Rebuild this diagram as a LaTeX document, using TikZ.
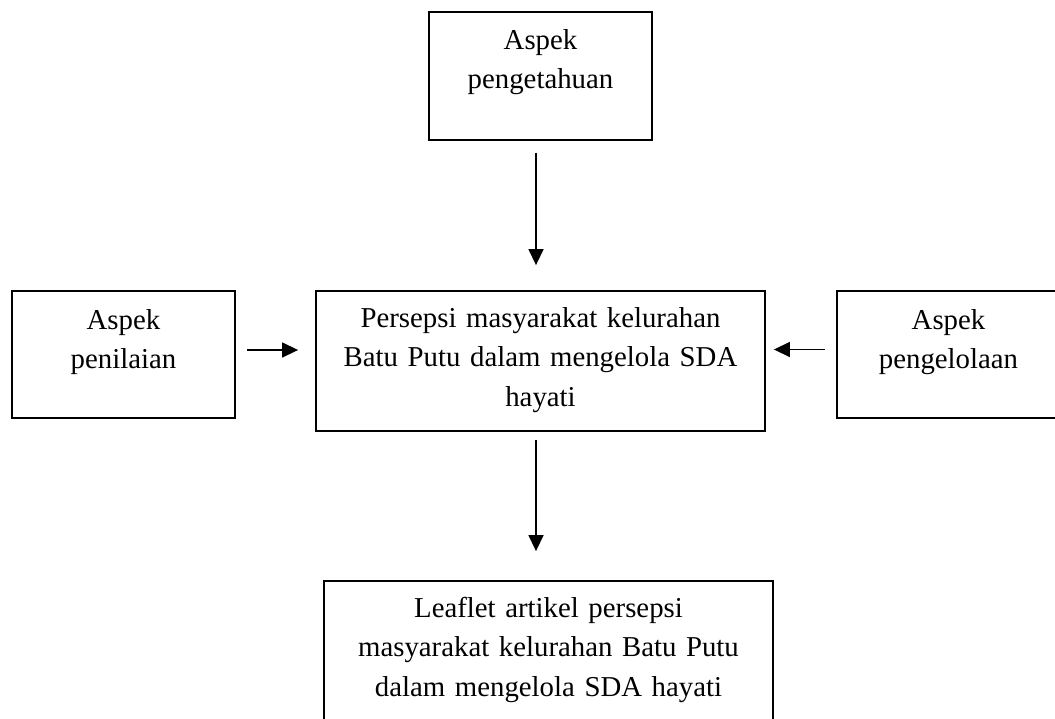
\documentclass[tikz,border=0pt]{standalone}
\usepackage{fontspec}
\setmainfont{Liberation Serif}
\usetikzlibrary{arrows.meta}
\tikzset{
  box/.style={draw, line width=0.9pt, inner sep=0pt, rectangle},
  txt/.style={inner sep=0pt, align=center, anchor=base,
    font=\fontsize{14.4pt}{19.75pt}\selectfont},
  arr/.style={line width=0.7pt, -{Triangle[length=8pt,width=7.5pt]}}
}
\begin{document}
\begin{tikzpicture}[x=0.5pt,y=-0.5pt]
\path[use as bounding box, clip] (0,0) rectangle (1055,718);
% boxes
\node[box, minimum width=111.5pt, minimum height=64pt] (top) at (540.5,76) {};
\node[box, minimum width=111.5pt, minimum height=63.5pt] (left) at (123.5,354.5) {};
\node[box, minimum width=224.5pt, minimum height=70pt] (center) at (540.5,361) {};
\node[box, minimum width=111.5pt, minimum height=63.5pt] (right) at (948.5,354.5) {};
\node[box, minimum width=224.5pt, minimum height=75pt] (bottom) at (548.5,656) {};
% texts
\node[txt, text width=110pt, yshift=-19pt] (toptext) at (top.north) {Aspek\\pengetahuan};
\node[txt, text width=110pt, yshift=-19.5pt] (lefttext) at (left.north) {Aspek\\penilaian};
\node[txt, text width=220pt, yshift=-18.5pt] (centertext) at (center.north) {Persepsi masyarakat kelurahan\\Batu Putu dalam mengelola SDA\\hayati};
\node[txt, text width=110pt, yshift=-19.5pt] (righttext) at (right.north) {Aspek\\pengelolaan};
\node[txt, text width=220pt, yshift=-18.5pt] (bottomtext) at (bottom.north) {Leaflet artikel persepsi\\masyarakat kelurahan Batu Putu\\dalam mengelola SDA hayati};
% arrows
\draw[arr, shorten <=6pt, shorten >=12.5pt] ([xshift=-2.25pt]top.south) -- ([xshift=-2.25pt]top.south |- center.north);
\draw[arr, shorten <=5.5pt, shorten >=8.5pt] ([yshift=2.25pt]left.east) -- ([yshift=2.25pt]left.east -| center.west);
\draw[arr, shorten <=5.5pt, shorten >=4pt] ([yshift=2.5pt]right.west) -- ([yshift=2.5pt]right.west -| center.east);
\draw[arr, shorten <=4pt, shorten >=14.5pt] ([xshift=-2.25pt]center.south) -- ([xshift=-2.25pt]center.south |- bottom.north);
\end{tikzpicture}
\end{document}
